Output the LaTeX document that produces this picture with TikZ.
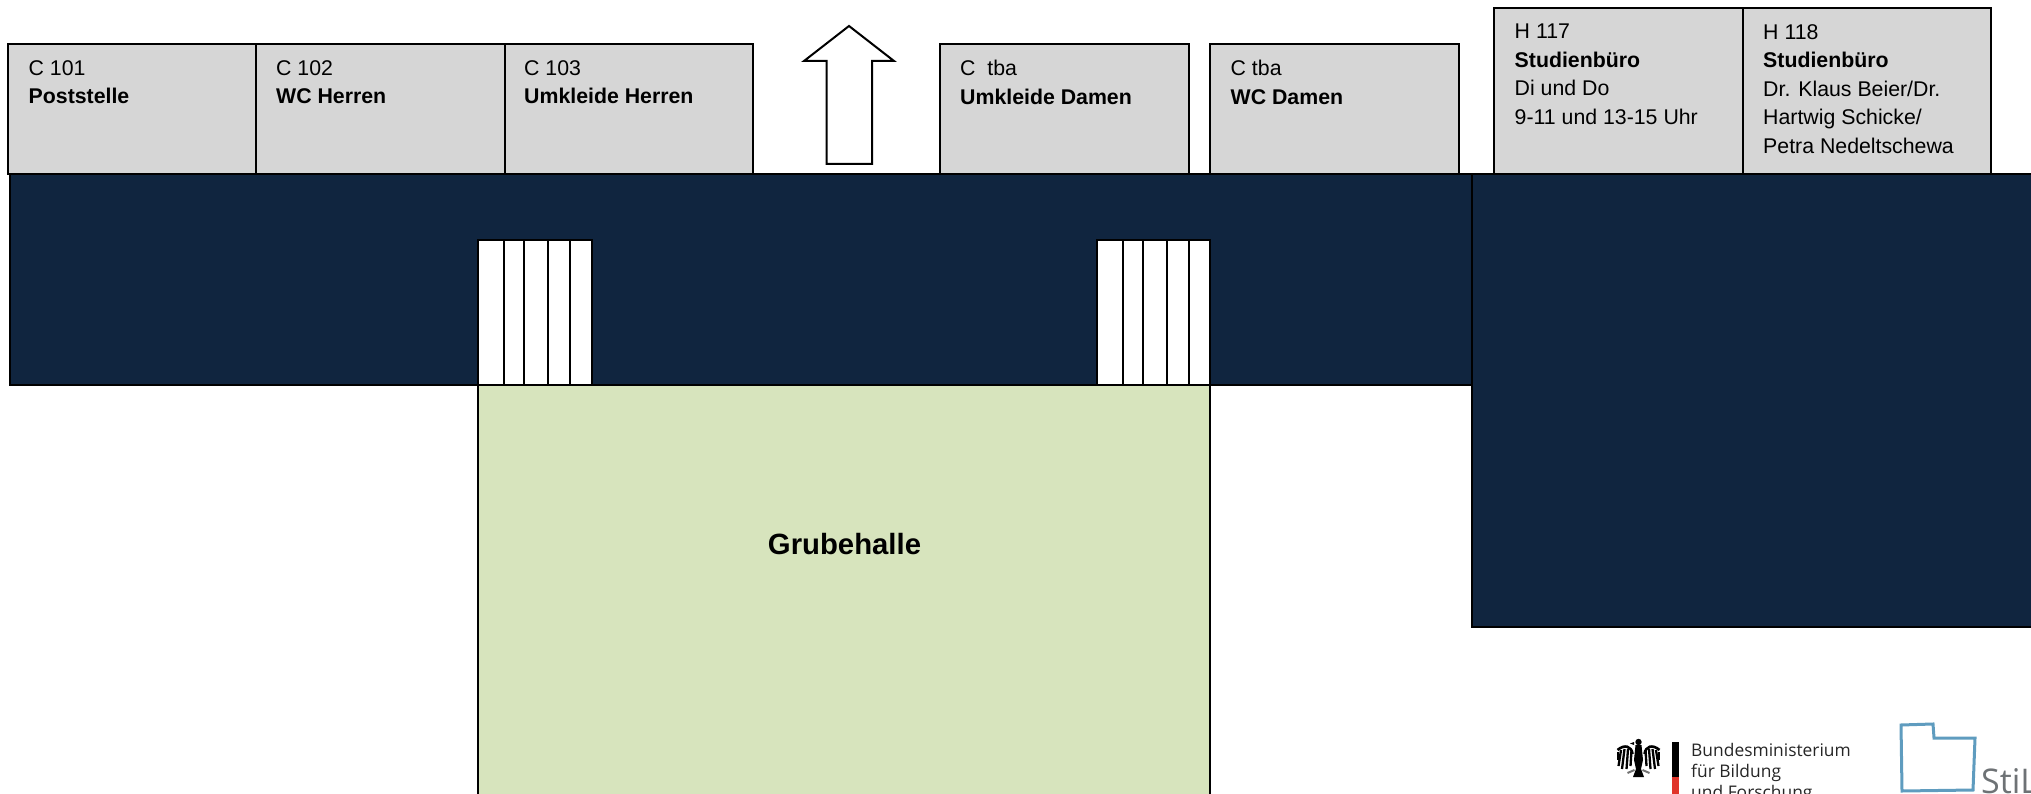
\documentclass[tikz,border=0pt]{standalone}
\usepackage{fontspec}
\setmainfont{Liberation Sans}
\newfontfamily\logofont{Open Sans}
\definecolor{roomgray}{HTML}{D6D6D6}
\definecolor{flurblue}{HTML}{10253F}
\definecolor{hallgreen}{HTML}{D7E4BD}
\definecolor{stilblue}{HTML}{5F9CBF}
\definecolor{stilgray}{HTML}{6E7275}
\definecolor{bmbfred}{HTML}{E0352B}
\tikzset{
  room/.style={draw=black,fill=roomgray,line width=2pt},
  flur/.style={draw=black,fill=flurblue,line width=2pt},
  stairs/.style={draw=black,fill=white,line width=2pt},
  roomlabel/.style={anchor=north west,inner sep=0pt,align=left,
    font=\fontsize{21.3}{28.5}\selectfont},
  logotext/.style={anchor=base west,inner sep=0pt,text=black!85,
    font=\logofont\fontsize{17.4}{21}\selectfont},
}
\begin{document}
\begin{tikzpicture}[x=1pt,y=-1pt]
  \clip (0,0) rectangle (2031,794);
  % Flure
  \draw[flur] (9.5,174) rectangle (1472,385);
  \draw[flur] (1472,174) rectangle (2040,627);
  % Halle
  \draw[draw=black,fill=hallgreen,line width=2pt] (478,385) rectangle (1210,800);
  \node[font=\bfseries\fontsize{29.3}{30}\selectfont] (halle) at (844.5,544) {Grubehalle};
  % Treppen
  \draw[stairs] (478,240) rectangle (592,385);
  \foreach \x in {504,524,548,570}
    \draw[line width=1.5pt] (\x,240)--(\x,385);
  \draw[stairs] (1097,240) rectangle (1210,385);
  \foreach \x in {1123,1143,1167,1189}
    \draw[line width=1.5pt] (\x,240)--(\x,385);
  % Raeume
  \draw[room] (8,44) rectangle (256,174);
  \draw[room] (256,44) rectangle (504.5,174);
  \draw[room] (504.5,44) rectangle (752.5,174);
  \draw[room] (940,44) rectangle (1189,174);
  \draw[room] (1210,44) rectangle (1459,174);
  \draw[room] (1494,8) rectangle (1743,174);
  \draw[room] (1743,8) rectangle (1991,174);
  \node[roomlabel] (c101) at (28.5,60) {C 101\\\textbf{Poststelle}};
  \node[roomlabel] (c102) at (276,60) {C 102\\\textbf{WC Herren}};
  \node[roomlabel] (c103) at (524,60) {C 103\\\textbf{Umkleide Herren}};
  \node[roomlabel] (ctbaa) at (960,60) {C\ \ tba\\\textbf{Umkleide Damen}};
  \node[roomlabel] (ctbab) at (1230.5,60) {C tba\\\textbf{WC Damen}};
  \node[roomlabel] (h117) at (1514.5,24) {H 117\\\textbf{Studienbüro}\\Di und Do\\9-11 und 13-15 Uhr};
  \node[roomlabel] (h118) at (1763,24) {H 118\\\textbf{Studienbüro}\\Dr. Klaus Beier/Dr.\\Hartwig Schicke/\\Petra Nedeltschewa};
  % Pfeil
  \draw[fill=white,line width=2pt] (849,26)--(894,61)--(872,61)--(872,164)--(826.5,164)--(826.5,61)--(804,61)--cycle;
  % Logo Ministerium
  \fill[black] (1638.5,742) circle (3.2);
  \fill[black] (1634,742)--(1630,743.5)--(1634,745)--cycle;
  \fill[black] (1635.5,745)--(1641.5,745)--(1643,760)--(1641,769)--(1644,777)--(1633,777)--(1636,769)--(1634,760)--cycle;
  \foreach \s in {-1,1}{
    \draw[line width=2.6pt] (1638.5+\s*6,754)..controls (1638.5+\s*7,746) and (1638.5+\s*14,744)..(1638.5+\s*21,750);
    \foreach \a/\b/\c/\d in {7/750/8/766,10.5/749/12/769,14/749/16.5/769,17.5/750/20/766,20.5/752/20.5/760}
      \draw[line width=2.3pt] (1638.5+\s*\a,\b)--(1638.5+\s*\c,\d);
    \draw[black!55,line width=2pt] (1638.5+\s*4,770)--(1638.5+\s*11,773);
  }
  \fill[black] (1672,742) rectangle (1679,777);
  \fill[bmbfred] (1672,777) rectangle (1679,794);
  \node[logotext] (bmbfa) at (1691,756) {Bundesministerium};
  \node[logotext] (bmbfb) at (1691,777) {für Bildung};
  \node[logotext] (bmbfc) at (1691,798) {und Forschung};
  % Logo StiL
  \draw[stilblue,line width=3pt] (1901,725)--(1933,724)--(1934,738)--(1975,738)--(1973,790)--(1902,791)--cycle;
  \node[anchor=base west,inner sep=0pt,text=stilgray,font=\logofont\fontsize{34}{36}\selectfont] (stil) at (1981,793) {StiL};
\end{tikzpicture}
\end{document}
